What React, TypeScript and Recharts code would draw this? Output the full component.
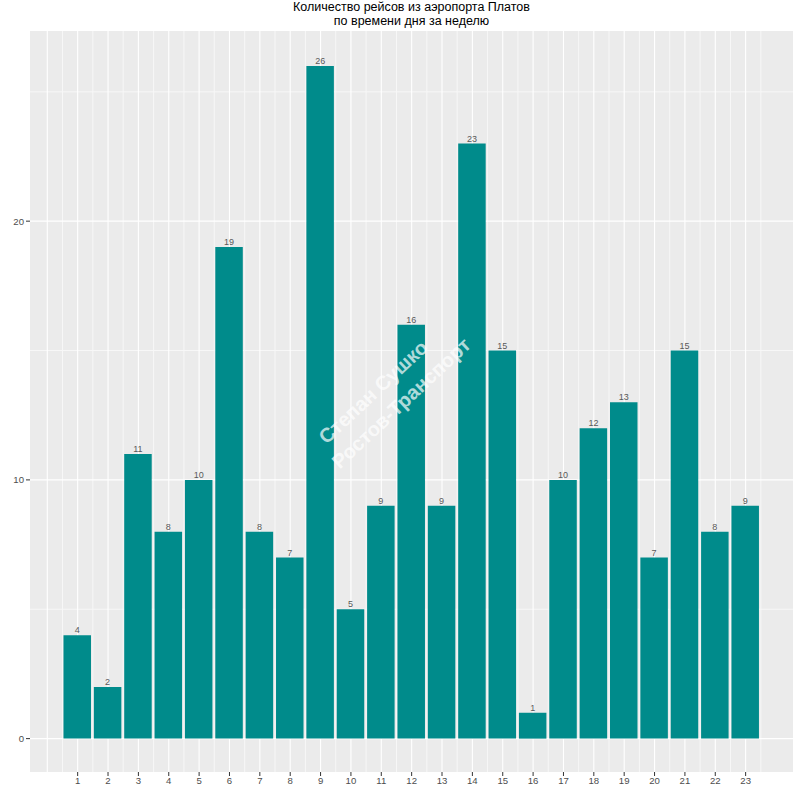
import { Bar, BarChart, CartesianGrid, LabelList, XAxis, YAxis } from "recharts";

// hour of day and number of flights
const hours = [1, 2, 3, 4, 5, 6, 7, 8, 9, 10, 11, 12, 13, 14, 15, 16, 17, 18, 19, 20, 21, 22, 23];
const flights = [4, 2, 11, 8, 10, 19, 8, 7, 26, 5, 9, 16, 9, 23, 15, 1, 10, 12, 13, 7, 15, 8, 9];

const yTicks = [0, 10, 20];
const yMinor = [5, 15, 25];
const xMajor = [0, 1, 2, 3, 4, 5, 6, 7, 8, 9, 10, 11, 12, 13, 14, 15, 16, 17, 18, 19, 20, 21, 22, 23];
const xMinor = [
  0.5, 1.5, 2.5, 3.5, 4.5, 5.5, 6.5, 7.5, 8.5, 9.5, 10.5, 11.5, 12.5, 13.5, 14.5, 15.5, 16.5, 17.5,
  18.5, 19.5, 20.5, 21.5, 22.5, 23.5,
];

const titleLines = ["Количество рейсов из аэропорта Платов", "по времени дня за неделю"];
const watermark = ["Степан Сушко", "Ростов-Транспорт"];

const data = hours.map((h, i) => ({ hour: h, flights: flights[i] }));

const font = "'Liberation Sans', Arial, sans-serif";

export default function App() {
  return (
    <div style={{ position: "absolute", left: 0, top: 0, width: 800, height: 800, background: "#fff" }}>
      <BarChart
        width={800}
        height={800}
        data={data}
        margin={{ top: 31, right: 7, bottom: 8, left: 0 }}
        barSize={27.5}
        style={{ fontFamily: font }}
      >
        <CartesianGrid
          fill="#EBEBEB"
          stroke="#F7F7F7"
          strokeWidth={1}
          horizontalValues={yMinor}
          verticalValues={xMinor}
        />
        <CartesianGrid
          stroke="#FFFFFF"
          strokeWidth={1.1}
          horizontalValues={yTicks}
          verticalValues={xMajor}
        />
        <XAxis
          type="number"
          dataKey="hour"
          domain={[-0.57, 24.56]}
          allowDataOverflow
          ticks={hours}
          interval={0}
          height={20}
          tickSize={4}
          tickMargin={1}
          axisLine={false}
          tickLine={{ stroke: "#333333" }}
          tick={{ fill: "#4D4D4D", fontSize: 9.6 }}
        />
        <YAxis
          type="number"
          domain={[-1.29, 27.35]}
          allowDataOverflow
          ticks={yTicks}
          interval={0}
          width={30}
          tickSize={4}
          tickMargin={2}
          axisLine={false}
          tickLine={{ stroke: "#333333" }}
          tick={{ fill: "#4D4D4D", fontSize: 9.6 }}
        />
        <Bar dataKey="flights" fill="#008B8B" isAnimationActive={false}>
          <LabelList dataKey="flights" position="top" offset={2} fill="#595959" fontSize={9} />
        </Bar>
      </BarChart>
      <svg
        width={800}
        height={800}
        style={{ position: "absolute", left: 0, top: 0, pointerEvents: "none", fontFamily: font }}
      >
        <text x={411.5} y={11} textAnchor="middle" fontSize={12.5} fill="#000">
          {titleLines[0]}
        </text>
        <text x={411.5} y={25} textAnchor="middle" fontSize={12.5} fill="#000">
          {titleLines[1]}
        </text>
        <g fill="#FFFFFF" fillOpacity={0.7} fontSize={20} fontWeight="bold">
          <text x={373} y={399} textAnchor="middle" transform="rotate(-43 373 392)">
            {watermark[0]}
          </text>
          <text x={401} y={410} textAnchor="middle" transform="rotate(-43 401 403)">
            {watermark[1]}
          </text>
        </g>
      </svg>
    </div>
  );
}
